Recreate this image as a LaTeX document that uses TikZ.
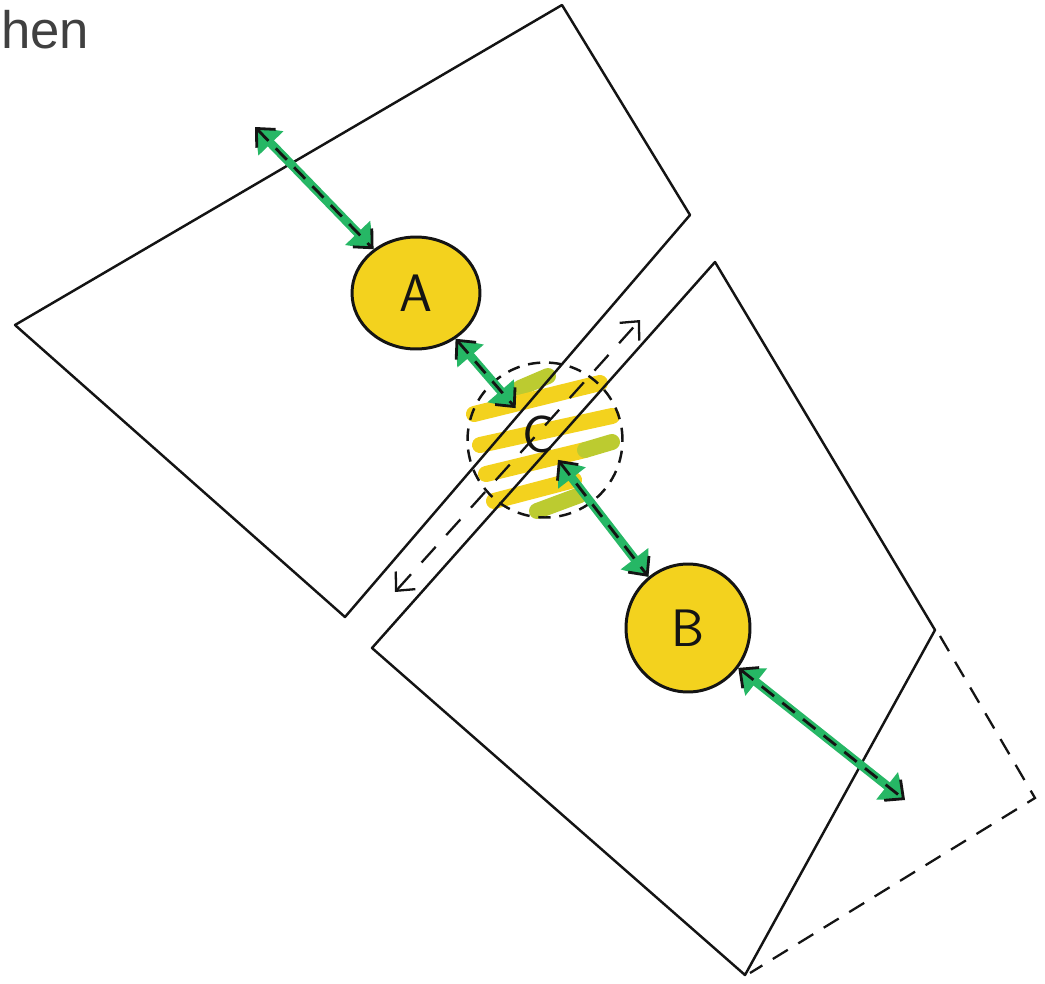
\documentclass[tikz,border=0pt]{standalone}
\usepackage{fontspec}
\usepackage{xcolor}
\usepackage{tikz}
\usetikzlibrary{arrows.meta,shapes.geometric,backgrounds}
\newfontfamily\headfont{Liberation Sans}
\definecolor{ink}{HTML}{141414}
\definecolor{caption}{HTML}{404040}
\definecolor{marker}{HTML}{F3D21E}
\definecolor{olive}{HTML}{BCCB30}
\definecolor{leaf}{HTML}{26B765}
\tikzset{
  plane/.style={draw=ink, line width=1.4pt, line join=round},
  ghost/.style={draw=ink, line width=1.3pt, dash pattern=on 10pt off 7pt},
  spot/.style={
    ellipse, draw=ink, line width=1.7pt, fill=marker, inner sep=0pt,
    text=ink, font=\sffamily\fontsize{30}{30}\selectfont
  },
  overlap/.style={
    circle, draw=ink, line width=1.4pt, dash pattern=on 7pt off 5pt,
    inner sep=0pt, minimum size=3.1cm
  },
  letter/.style={text=ink, inner sep=4pt, font=\sffamily\fontsize{30}{30}\selectfont},
  stripe/.style={line width=0.32cm, line cap=round, draw=#1},
  linkback/.style={
    {Triangle[length=13pt,width=19pt]}-{Triangle[length=13pt,width=19pt]},
    draw=leaf, fill=leaf, line width=5pt
  },
  linkfront/.style={
    {Straight Barb[length=8pt,width=15pt]}-{Straight Barb[length=8pt,width=15pt]},
    draw=ink, line width=1.6pt, dash pattern=on 9pt off 6pt
  },
  moveline/.style={
    {Straight Barb[length=8pt,width=15pt]}-{Straight Barb[length=8pt,width=15pt]},
    draw=ink, line width=1.3pt, dash pattern=on 12pt off 9pt
  }
}

\begin{document}
\begin{tikzpicture}[x=0.02cm,y=-0.02cm]
  \useasboundingbox (0,0) rectangle (1045,984);

  \node[anchor=base west, inner sep=0pt, text=caption,
        font=\headfont\fontsize{30}{30}\selectfont] (head) at (1,48) {hen};

  % the two planes
  \draw[plane] (15,325) -- (562,5) -- (690,215) -- (345,617) -- cycle;
  \draw[plane] (935,630) -- (715,262) -- (372,648) -- (745,975) -- cycle;
  \draw[ghost] (940,636) -- (1035,798) -- (750,973);

  % sources and the shared area
  \node[spot, minimum width=2.56cm, minimum height=2.24cm] (A) at (416,293) {A};
  \node[spot, minimum width=2.48cm, minimum height=2.56cm] (B) at (688,628) {B};
  \node[overlap] (C) at (545,440) {};
  \node[letter] (Clabel) at (538,434) {C};

  \begin{scope}[on background layer]
    \draw[stripe=olive]  (520,388) -- (548,376);
    \draw[stripe=marker] (474,414) -- (600,383);
    \draw[stripe=marker] (480,445) -- (612,416);
    \draw[stripe=marker] (486,474) -- (585,450);
    \draw[stripe=olive]  (585,450) -- (612,442);
    \draw[stripe=marker] (494,501) -- (574,480);
    \draw[stripe=olive]  (537,511) -- (580,495);
  \end{scope}

  \coordinate (a0) at (255,127);
  \coordinate (b0) at (905,800);
  \coordinate (g1) at (395,592);
  \coordinate (g2) at (640,320);

  \foreach \s/\t in {a0/A, A/Clabel, Clabel/B, B/b0} {
    \draw[linkback]  (\s) -- (\t);
    \draw[linkfront] (\s) -- (\t);
  }

  \draw[moveline] (g1) -- (g2);
\end{tikzpicture}
\end{document}
